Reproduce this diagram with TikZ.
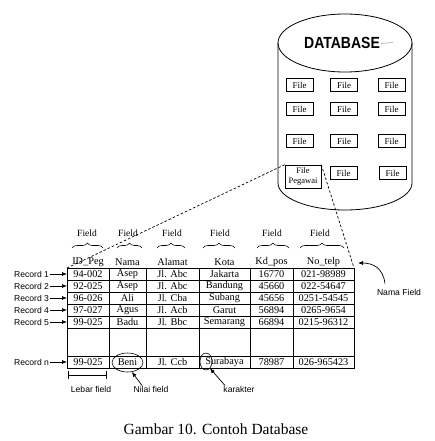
\documentclass[tikz,border=0pt]{standalone}
\usepackage{fontspec}
\setmainfont{Liberation Serif}
\setsansfont{Liberation Sans}
\usetikzlibrary{decorations.pathreplacing,arrows.meta,shapes.geometric}
\begin{document}
\begin{tikzpicture}[x=1pt,y=-1pt,
  line width=0.7pt,
  filebox/.style={draw,line width=0.6pt,minimum width=27pt,minimum height=13pt,inner sep=0pt,font=\fontsize{9}{9}\selectfont},
  cell/.style={font=\fontsize{10.3}{12}\selectfont,inner sep=0pt},
  fieldlbl/.style={font=\fontsize{9.5}{11}\selectfont,inner sep=0pt},
  bracestyle/.style={decorate,decoration={brace,amplitude=5pt},line width=0.6pt},
  sanslbl/.style={font=\sffamily\fontsize{8.6}{10}\selectfont,inner sep=0pt},
  arr/.style={-{Latex[length=5pt,width=4pt]},line width=0.7pt},
  dashedline/.style={dash pattern=on 2.5pt off 2pt,line width=0.7pt},
  ring/.style={draw,ellipse,line width=0.6pt,inner sep=0pt},
]
\useasboundingbox (0,0) rectangle (434,441);

% cylinder
\draw[line width=0.8pt] (278,43) -- (278,183) .. controls (278,197.9) and (308,210) .. (345,210) .. controls (382,210) and (412,197.9) .. (412,183) -- (412,43);
\draw[line width=0.8pt] (345,43) ellipse [x radius=67pt, y radius=29pt];
\node[font=\sffamily\bfseries\fontsize{14}{14}\selectfont,inner sep=0pt] (dbtitle) at (342,43) {\scalebox{1}[1.15]{DATABASE}};
\draw[gray!55,line width=0.8pt] (381,43.5) -- (393,42.5);

% files
\foreach \r/\yy in {1/85,2/109,3/141}
  \foreach \c/\xx in {1/299.5,2/344,3/391.5}
    \node[filebox] (f\r\c) at (\xx,\yy) {File};
\node[filebox] (f42) at (343.5,173) {File};
\node[filebox] (f43) at (392.5,173) {File};
\node[filebox,minimum width=36pt,minimum height=23pt,align=center,font=\fontsize{8.5}{9.5}\selectfont] (fp) at (303,176.5) {File\\Pegawai};

% table grid
\coordinate (tl) at (67,268);
\coordinate (tr) at (354,268);
\draw (67,268) rectangle (354,368);
\foreach \x in {109,146,199,250,293} \draw (\x,268) -- (\x,368);
\foreach \y in {280,292,304,316,328,356} \draw (67,\y) -- (354,\y);

% headers
\foreach [count=\i] \xx/\h in {88/ID\_Peg,127.5/Nama,172.5/Alamat,224.5/Kota,271.5/Kd\_pos,323.5/No\_telp}
  \node[cell] (h\i) at (\xx,262) {\h};

% field labels and braces
\foreach [count=\i] \xx/\bl/\br in {87/72/103,128/117/142,172/157/185,220/203/235,272/257/289,320/300/344} {
  \node[fieldlbl] (fl\i) at (\xx,233) {Field};
  \draw[bracestyle] (\bl,248) -- (\br,248);
}

% cells
\foreach [count=\i] \yy/\a/\b/\c/\d/\e/\f in {
  274/94-002/Asep/Jl. Abc/Jakarta/16770/021-98989,
  286/92-025/Asep/Jl. Abc/Bandung/45660/022-54647,
  298/96-026/Ali/Jl. Cba/Subang/45656/0251-54545,
  310/97-027/Agus/Jl. Acb/Garut/56894/0265-9654,
  322/99-025/Badu/Jl. Bbc/Semarang/66894/0215-96312,
  362/99-025/Beni/Jl. Ccb/Surabaya/78987/026-965423} {
  \node[cell] (c\i a) at (88,\yy) {\a};
  \node[cell] (c\i b) at (127.5,\yy) {\b};
  \node[cell] (c\i c) at (172.5,\yy) {\c};
  \node[cell] (c\i d) at (224.5,\yy) {\d};
  \node[cell] (c\i e) at (271.5,\yy) {\e};
  \node[cell] (c\i f) at (323.5,\yy) {\f};
}

% dashed links
\draw[dashedline] (fp.north west) -- (tl);
\draw[dashedline] (fp.north east) -- (tr);

% record labels
\foreach [count=\i] \yy/\lab in {274/Record 1,286/Record 2,298/Record 3,310/Record 4,322/Record 5,362/Record n} {
  \node[sanslbl,anchor=east,outer sep=1pt] (rec\i) at (50,\yy) {\lab};
  \coordinate (re\i) at (67,\yy);
  \draw[arr] (rec\i) -- (re\i);
}

% lebar field
\coordinate (lf1) at (68,375);
\coordinate (lf2) at (107,375);
\draw[{Bar[width=8pt]}-{Bar[width=8pt]},line width=0.6pt] (lf1) -- (lf2);
\node[sanslbl] (lebar) at (91,389) {Lebar field};

% nilai field
\node[ring,minimum width=31pt,minimum height=19pt] (beniring) at (127.5,362.5) {};
\node[sanslbl] (nilai) at (151,389) {Nilai field};
\draw[arr] ([xshift=-9pt]nilai.north) -- (beniring.-65);

% karakter
\node[ring,minimum width=12pt,minimum height=17pt] (charring) at (206,361.5) {};
\node[sanslbl] (kar) at (239,389) {karakter};
\draw[arr] ([xshift=-14pt]kar.north) -- (charring.-60);

% nama field
\node[sanslbl] (namafield) at (399,292) {Nama Field};
\coordinate (nf) at (358,263);
\draw[arr] ([xshift=-14pt,yshift=5pt]namafield.north) .. controls (383,268) and (373,263) .. (nf);

% caption
\node[font=\fontsize{15.5}{17}\selectfont,inner sep=0pt] (caption) at (216,429) {Gambar 10. Contoh Database};
\end{tikzpicture}
\end{document}
